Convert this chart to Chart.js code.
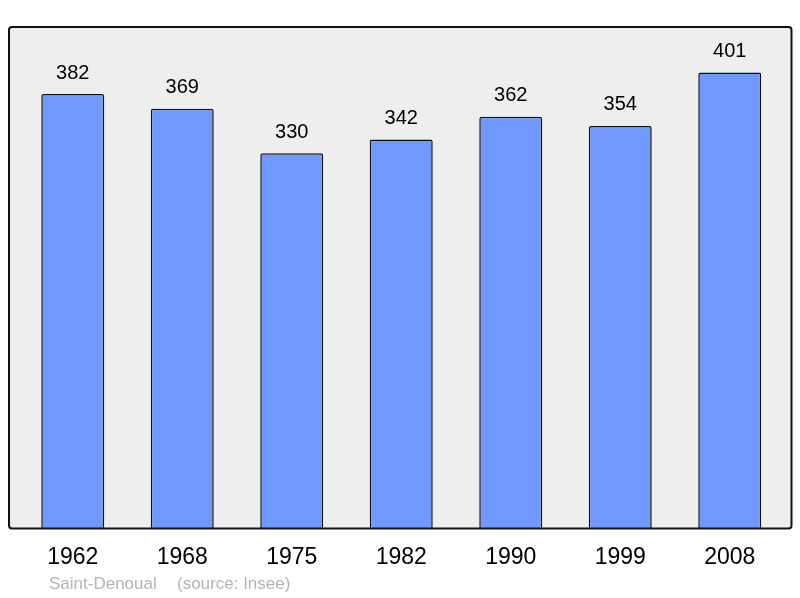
<!DOCTYPE html>
<html>
<head>
<script src="https://cdn.jsdelivr.net/npm/chart.js"></script>
<style>
  body { margin: 0; background: #fff; }
  #wrap { width: 800px; height: 598px; }
</style>
</head>
<body>
<div id="wrap"><canvas id="c" width="800" height="598"></canvas></div>
<script>
const years = ['1962', '1968', '1975', '1982', '1990', '1999', '2008'];
const population = [382, 369, 330, 342, 362, 354, 401];
const townName = 'Saint-Denoual';
const sourceText = '(source: Insee)';

const FONT = '"Liberation Sans", Arial, sans-serif';

// background box + border + bar value labels + footer
const framePlugin = {
  id: 'frame',
  beforeDatasetsDraw(chart) {
    const { ctx, chartArea: a } = chart;
    ctx.save();
    ctx.fillStyle = '#eeeeee';
    ctx.beginPath();
    ctx.roundRect(a.left - 9, a.top, a.right - a.left + 16, a.bottom - a.top, 3);
    ctx.fill();
    ctx.restore();
  },
  afterDatasetsDraw(chart) {
    const { ctx, chartArea: a } = chart;
    ctx.save();
    ctx.strokeStyle = '#111';
    ctx.lineWidth = 2;
    ctx.beginPath();
    ctx.roundRect(a.left - 9, a.top, a.right - a.left + 16, a.bottom - a.top, 3);
    ctx.stroke();

    ctx.fillStyle = '#000';
    ctx.font = '20px ' + FONT;
    ctx.textAlign = 'center';
    ctx.textBaseline = 'middle';
    chart.getDatasetMeta(0).data.forEach((bar, i) => {
      ctx.fillText(String(population[i]), bar.x, bar.y - 21);
    });

    ctx.fillStyle = '#b4b4b4';
    ctx.font = '17px ' + FONT;
    ctx.textAlign = 'left';
    ctx.fillText(townName, 49, 584);
    ctx.fillText(sourceText, 177, 584);
    ctx.restore();
  }
};

new Chart(document.getElementById('c'), {
  type: 'bar',
  data: {
    labels: years,
    datasets: [{
      data: population,
      backgroundColor: '#7099ff',
      borderColor: '#111',
      borderWidth: 1.5,
      borderSkipped: 'bottom',
      borderRadius: { topLeft: 2, topRight: 2 },
      categoryPercentage: 1,
      barPercentage: 0.575
    }]
  },
  options: {
    responsive: false,
    animation: false,
    layout: { padding: { left: 18, right: 15.5, top: 27, bottom: 12 } },
    plugins: { legend: { display: false }, tooltip: { enabled: false } },
    scales: {
      y: { display: false, min: 0, max: 441 },
      x: {
        grid: { display: false, drawTicks: false },
        border: { display: false },
        ticks: { color: '#000', font: { size: 23, family: FONT }, padding: 15 }
      }
    }
  },
  plugins: [framePlugin]
});
</script>
</body>
</html>
